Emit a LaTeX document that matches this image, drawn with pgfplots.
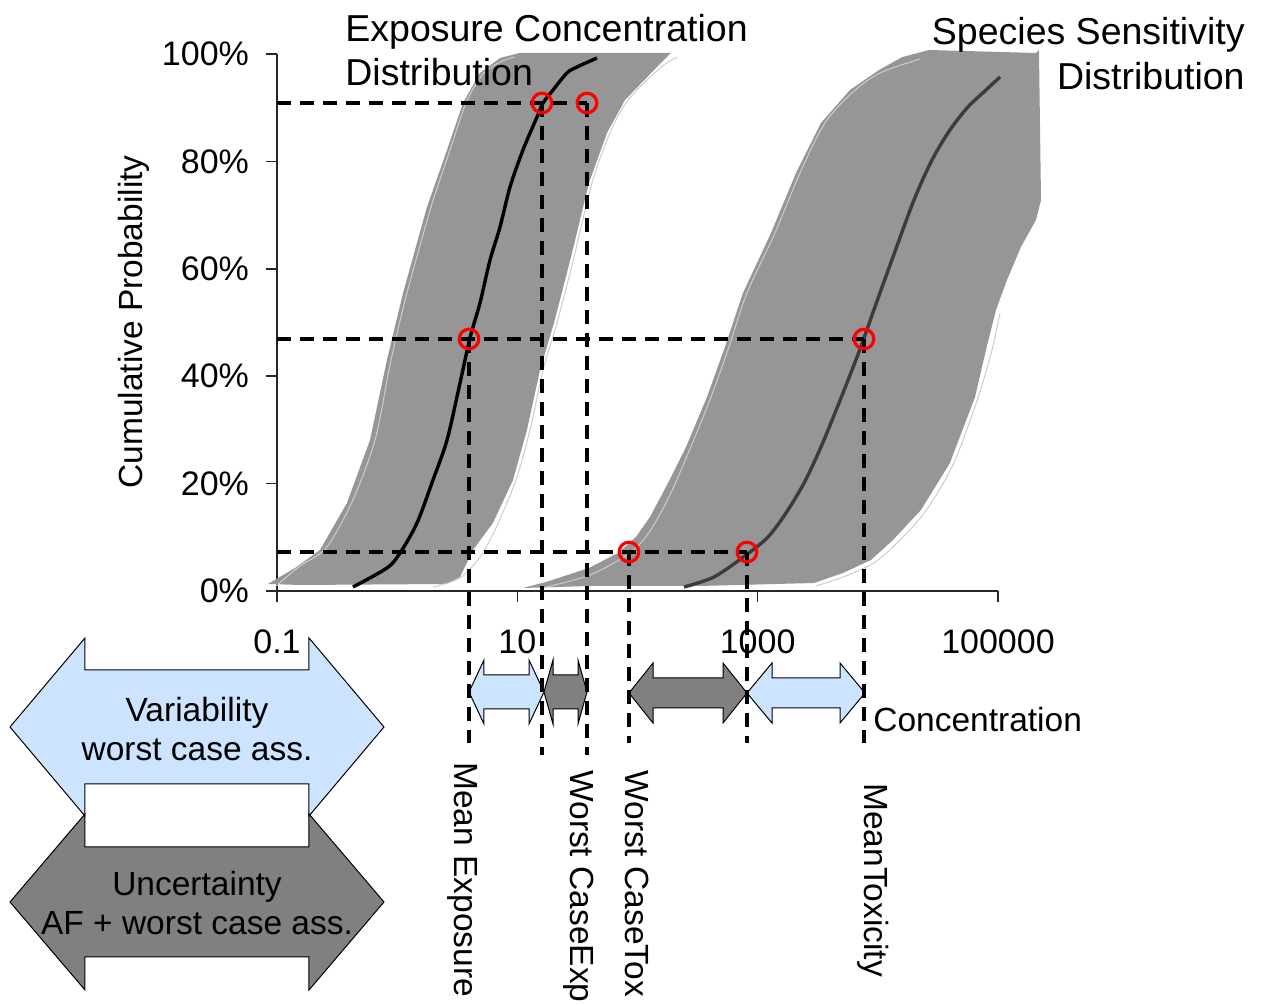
\documentclass[border=0pt]{standalone}
\usepackage{fontspec}
\setmainfont{Liberation Sans}
\usepackage{pgfplots}
\pgfplotsset{compat=1.18}
\definecolor{band}{RGB}{150,150,150}
\definecolor{lblue}{RGB}{204,228,255}
\definecolor{dgrey}{RGB}{128,128,128}
\definecolor{ssdline}{RGB}{60,60,60}
\definecolor{thinl}{RGB}{205,205,205}
\newcommand\fA{\fontsize{16.75pt}{20pt}\selectfont}
\newcommand\fT{\fontsize{18.75pt}{22pt}\selectfont}
\newcommand\fK{\fontsize{17pt}{20pt}\selectfont}
\newcommand{\darrow}[7]{%
  \filldraw[fill=#7, draw=black, line width=0.5pt]
  (#1,#3) -- (#1+#4,#3-#5) -- (#1+#4,#3-#6) -- (#2-#4,#3-#6) -- (#2-#4,#3-#5) -- (#2,#3)
  -- (#2-#4,#3+#5) -- (#2-#4,#3+#6) -- (#1+#4,#3+#6) -- (#1+#4,#3+#5) -- cycle;}
\begin{document}
\begin{tikzpicture}
\useasboundingbox (-138.5pt,-207pt) rectangle (494.5pt,295.5pt);
% annotations in pixel frame (below the plot layer)
\begin{scope}[x=0.5pt,y=-0.5pt,shift={(-138.5pt,295.5pt)}]
\darrow{469}{544}{692}{15}{32}{17}{lblue}
\darrow{544}{587}{692}{9}{32}{17}{dgrey}
\darrow{629}{747}{693}{24}{30}{15}{dgrey}
\darrow{747}{865}{693}{25}{30}{15}{lblue}
\darrow{10}{384}{727}{75}{89}{57}{lblue}
\darrow{10}{384}{902}{75}{88}{55}{dgrey}
\node[anchor=base, inner sep=0pt, font=\fA] at (197,722) {Variability};
\node[anchor=base, inner sep=0pt, font=\fA] at (197,761) {worst case ass.};
\node[anchor=base, inner sep=0pt, font=\fA] at (197,896) {Uncertainty};
\node[anchor=base, inner sep=0pt, font=\fA] at (197,935) {AF + worst case ass.};
\node[anchor=base west, inner sep=0pt, font=\fA] at (873,732) {Concentration};
\node[rotate=90, inner sep=0pt, font=\fA] at (134,322) {Cumulative Probability};
\node[rotate=-90, anchor=west, inner sep=0pt, font=\fA] at (463,762) {Mean Exposure};
\node[rotate=-90, anchor=west, inner sep=0pt, font=\fA] at (579,770) {Worst CaseExp};
\node[rotate=-90, anchor=west, inner sep=0pt, font=\fA] at (637,770) {Worst CaseTox};
\node[rotate=-90, anchor=west, inner sep=0pt, font=\fA] at (873,783) {MeanToxicity};
\end{scope}
\begin{axis}[
  at={(0,0)}, anchor=south west, scale only axis,
  width=360.5pt, height=268.5pt,
  xmin=-1, xmax=5, ymin=0, ymax=100, clip=false,
  axis lines=left, axis line style={-, line width=0.75pt, color=black!85},
  tick align=outside, major tick length=5.5pt,
  tick style={line width=0.75pt, color=black!85},
  xtick={-1,1,3,5}, xticklabels={0.1,10,1000,100000},
  ytick={0,20,40,60,80,100}, yticklabels={0\%,20\%,40\%,60\%,80\%,100\%},
  minor tick num=0,
  xticklabel style={font=\fK, yshift=-10.5pt},
  yticklabel style={font=\fK, xshift=-5pt},
]
% ECD band
\addplot[fill=band, draw=none] coordinates {
(-1.075,1.304) (-0.850,4.283) (-0.642,7.635) (-0.418,16.387) (-0.226,28.119)
(-0.085,43.017) (0.049,55.493) (0.248,71.508) (0.415,82.123) (0.548,90.875)
(0.689,96.462) (0.856,99.255) (1.022,100.2) (2.279,100.2) (2.162,97.579)
(1.896,91.434) (1.746,85.289) (1.596,75.978) (1.447,62.197) (1.305,49.907)
(1.189,41.155) (1.080,29.981) (0.964,20.670) (0.797,12.663) (0.631,7.635)
(0.523,2.607) (0.415,1.304) (-0.809,1.117)} -- cycle;
% SSD band
\addplot[fill=band, draw=none] coordinates {
(1.047,0.559) (1.239,1.676) (1.596,4.283) (1.838,7.076) (1.987,10.056)
(2.104,13.780) (2.254,20.112) (2.404,26.816) (2.578,36.127) (2.728,45.438)
(2.878,55.493) (3.111,66.667) (3.319,77.840) (3.527,87.151) (3.768,93.296)
(4.010,97.020) (4.200,99.400) (4.426,100.745) (5.316,100.186) (5.341,100.745) (5.358,72.812)
(5.316,69.088) (5.191,64.060) (5.075,57.914) (4.983,52.328) (4.900,44.879)
(4.809,36.127) (4.600,23.836) (4.359,15.084) (4.126,9.497) (3.943,5.773)
(3.710,3.352) (3.469,1.490) (2.520,0.931) (1.605,0.931)} -- cycle;
% thin light sample lines
\addplot[thinl, line width=0.5pt, smooth] coordinates {
(-1.008,0.931) (-0.809,4.655) (-0.592,8.007) (-0.376,16.574) (-0.184,28.119)
(-0.051,43.017) (0.082,55.493) (0.282,71.508) (0.440,82.123) (0.573,90.875)
(0.706,96.089) (0.856,98.510) (0.981,99.441)};
\addplot[thinl, line width=0.5pt, smooth] coordinates {
(0.298,0.745) (0.523,2.421) (0.689,6.331) (0.822,11.732) (0.989,20.670)
(1.105,29.981) (1.214,41.155) (1.330,49.907) (1.472,62.197) (1.621,75.978)
(1.771,85.289) (1.921,91.434) (2.187,97.393) (2.329,99.441)};
\addplot[thinl, line width=0.5pt, smooth] coordinates {
(1.239,0.745) (1.605,2.980) (1.938,7.076) (2.104,11.173) (2.270,17.877)
(2.437,26.443) (2.612,36.127) (2.761,45.438) (2.911,55.493) (3.144,66.667)
(3.352,77.840) (3.560,87.151) (3.793,92.924) (4.018,96.462) (4.351,99.069)};
\addplot[thinl, line width=0.5pt, smooth] coordinates {
(3.485,0.931) (3.735,2.793) (3.968,5.214) (4.159,8.939) (4.392,14.711)
(4.625,23.464) (4.833,35.940) (4.950,44.879) (5.017,51.769)};
% mean curves
\addplot[black, line width=1.7pt, smooth] coordinates {
(-0.368,0.745) (-0.085,4.283) (0.024,7.076) (0.165,12.663) (0.298,20.670)
(0.415,28.119) (0.523,38.734) (0.606,47.114) (0.689,53.631) (0.773,61.639)
(0.856,67.784) (0.939,75.233) (1.047,82.123) (1.164,88.268) (1.214,90.875)
(1.297,93.296) (1.413,96.462) (1.497,97.579) (1.663,99.255)};
\addplot[ssdline, line width=1.7pt, smooth] coordinates {
(2.387,0.745) (2.637,2.607) (2.903,6.704) (3.086,10.056) (3.236,14.525)
(3.386,20.112) (3.527,26.816) (3.677,35.009) (3.827,43.575) (3.885,47.114)
(3.976,52.886) (4.126,62.197) (4.301,72.812) (4.451,80.261) (4.600,85.847)
(4.750,90.130) (4.900,93.296) (5.017,95.717)};
% dashed guide lines
\pgfplotsset{guide/.style={black, line width=1.6pt, dash pattern=on 7pt off 4.5pt}}
\addplot[guide] coordinates {(-1,90.875) (1.580,90.875)};
\addplot[guide] coordinates {(-1,46.93) (3.885,46.93)};
\addplot[guide] coordinates {(-1,7.263) (2.911,7.263)};
\addplot[guide] coordinates {(0.598,46.93) (0.598,-28.31)};
\addplot[guide] coordinates {(1.205,90.875) (1.205,-30.54)};
\addplot[guide] coordinates {(1.580,90.875) (1.580,-30.54)};
\addplot[guide] coordinates {(1.929,7.263) (1.929,-28.31)};
\addplot[guide] coordinates {(2.911,7.263) (2.911,-28.31)};
\addplot[guide] coordinates {(3.885,46.93) (3.885,-28.31)};
% red circles
\addplot[only marks, mark=o, mark size=4.9pt, mark options={draw=red, line width=1.6pt}]
 coordinates {(0.598,46.93) (1.205,90.875) (1.580,90.875) (1.929,7.263) (2.911,7.263) (3.885,46.93)};
\end{axis}
% titles on top of the bands
\begin{scope}[x=0.5pt,y=-0.5pt,shift={(-138.5pt,295.5pt)}]
\node[anchor=base west, inner sep=0pt, font=\fT] at (345,42) {Exposure Concentration};
\node[anchor=base west, inner sep=0pt, font=\fT] at (345,86) {Distribution};
\node[anchor=base east, inner sep=0pt, font=\fT] at (1245,45) {Species Sensitivity};
\node[anchor=base east, inner sep=0pt, font=\fT] at (1245,90) {Distribution};
\end{scope}
\end{tikzpicture}
\end{document}
